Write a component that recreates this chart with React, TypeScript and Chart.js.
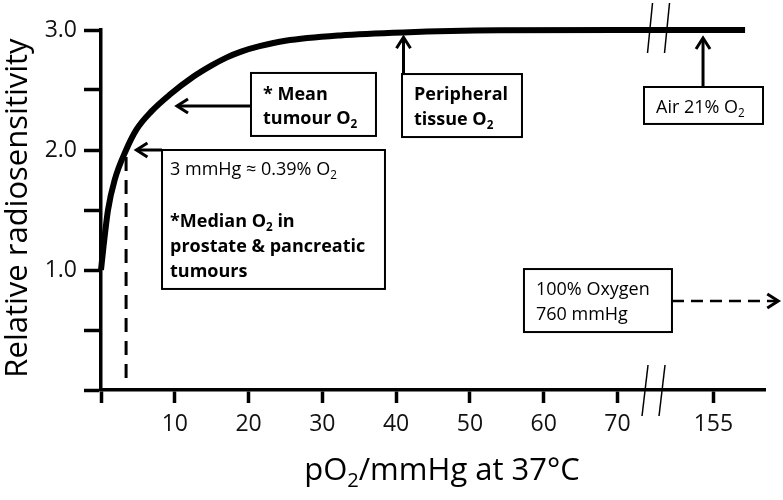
import React, { useEffect, useRef } from "react";
import { Chart, registerables } from "chart.js";

Chart.register(...registerables);

// ---- data ----
const pO2Values = [0, 0.35, 0.95, 1.85, 3.4, 4.8, 6.8, 9.3, 12.5, 15, 17, 19, 21.5, 25, 32.4, 41, 54, 70, 87.3];
const radiosensitivity = [1.0, 1.2, 1.5, 1.75, 2.0, 2.17, 2.32, 2.46, 2.61, 2.705, 2.77, 2.82, 2.865, 2.91, 2.955, 2.98, 2.997, 3.0, 3.0];
const markerPO2 = 3.4;
const markerRange = [0.1, 1.95];
const xTickValues = [0, 10, 20, 30, 40, 50, 60, 70, 83];
const xTickLabels = ["", "10", "20", "30", "40", "50", "60", "70", "155"];
const yTickLabelMap: Record<string, string> = { "1": "1.0", "2": "2.0", "3": "3.0" };
const xBreakAt = 75.5;

const FONT = '"Open Sans", "DejaVu Sans", sans-serif';

type Seg = [string, boolean?];
type Line = { segs: Seg[]; bold: boolean; dy: number };
type Box = { l: number; t: number; r: number; b: number; pad: number; lines: Line[] };

const boxes: Box[] = [
  {
    l: 20.33, t: 2.642, r: 37.27, b: 2.117, pad: 12,
    lines: [
      { segs: [["* Mean"]], bold: true, dy: 27 },
      { segs: [["tumour O"], ["2", true]], bold: true, dy: 51 },
    ],
  },
  {
    l: 8.27, t: 2.0, r: 38.49, b: 0.842, pad: 8,
    lines: [
      { segs: [["3 mmHg \u2248 0.39% O"], ["2", true]], bold: false, dy: 25 },
      { segs: [["*Median O"], ["2", true], [" in"]], bold: true, dy: 77 },
      { segs: [["prostate & pancreatic"]], bold: true, dy: 102 },
      { segs: [["tumours"]], bold: true, dy: 127 },
    ],
  },
  {
    l: 40.8, t: 2.633, r: 57.06, b: 2.108, pad: 12,
    lines: [
      { segs: [["Peripheral"]], bold: true, dy: 26 },
      { segs: [["tissue O"], ["2", true]], bold: true, dy: 51 },
    ],
  },
  {
    l: 73.6, t: 2.525, r: 89.73, b: 2.217, pad: 12,
    lines: [{ segs: [["Air 21% O"], ["2", true]], bold: false, dy: 26 }],
  },
  {
    l: 57.33, t: 1.008, r: 77.39, b: 0.483, pad: 12,
    lines: [
      { segs: [["100% Oxygen"]], bold: false, dy: 26 },
      { segs: [["760 mmHg"]], bold: false, dy: 51 },
    ],
  },
];

const arrows = [
  { x1: 20.33, y1: 2.367, x2: 10.3, y2: 2.367, dashed: false },
  { x1: 8.27, y1: 2.0, x2: 4.8, y2: 2.0, dashed: false },
  { x1: 41.0, y1: 2.633, x2: 41.0, y2: 2.94, dashed: false },
  { x1: 81.6, y1: 2.525, x2: 81.6, y2: 2.933, dashed: false },
  { x1: 77.39, y1: 0.742, x2: 91.8, y2: 0.742, dashed: true },
];

function drawRich(ctx: CanvasRenderingContext2D, segs: Seg[], x: number, y: number, size: number, bold: boolean, align: "left" | "center" = "left") {
  const measure = () => {
    let w = 0;
    for (const [t, sub] of segs) {
      const s = sub ? size * 0.65 : size;
      ctx.font = `${bold ? "bold " : ""}${s}px ${FONT}`;
      w += ctx.measureText(t).width;
    }
    return w;
  };
  let cx = align === "center" ? x - measure() / 2 : x;
  ctx.textAlign = "left";
  ctx.textBaseline = "alphabetic";
  for (const [t, sub] of segs) {
    const s = sub ? size * 0.65 : size;
    ctx.font = `${bold ? "bold " : ""}${s}px ${FONT}`;
    ctx.fillText(t, cx, sub ? y + size * 0.22 : y);
    cx += ctx.measureText(t).width;
  }
}

function drawArrow(ctx: CanvasRenderingContext2D, x1: number, y1: number, x2: number, y2: number, dashed: boolean) {
  const ang = Math.atan2(y2 - y1, x2 - x1);
  ctx.save();
  ctx.strokeStyle = "#000";
  ctx.lineWidth = dashed ? 2.5 : 3;
  ctx.setLineDash(dashed ? [12, 7] : []);
  ctx.beginPath();
  ctx.moveTo(x1, y1);
  ctx.lineTo(x2 - Math.cos(ang) * 2, y2 - Math.sin(ang) * 2);
  ctx.stroke();
  ctx.setLineDash([]);
  const L = 11, W = 7;
  const bx = x2 - Math.cos(ang) * L, by = y2 - Math.sin(ang) * L;
  const nx = -Math.sin(ang) * W, ny = Math.cos(ang) * W;
  ctx.lineWidth = 3;
  ctx.lineJoin = "miter";
  ctx.beginPath();
  ctx.moveTo(bx + nx, by + ny);
  ctx.lineTo(x2, y2);
  ctx.lineTo(bx - nx, by - ny);
  ctx.stroke();
  ctx.restore();
}

const annotationPlugin = {
  id: "annotations",
  afterDraw(chart: any) {
    const ctx: CanvasRenderingContext2D = chart.ctx;
    const xs = chart.scales.x, ys = chart.scales.y;
    const X = (v: number) => xs.getPixelForValue(v);
    const Y = (v: number) => ys.getPixelForValue(v);
    ctx.save();
    ctx.fillStyle = "#000";
    for (const b of boxes) {
      const l = X(b.l), t = Y(b.t), r = X(b.r), bt = Y(b.b);
      ctx.fillStyle = "#fff";
      ctx.fillRect(l, t, r - l, bt - t);
      ctx.strokeStyle = "#000";
      ctx.lineWidth = 2;
      ctx.strokeRect(l, t, r - l, bt - t);
      ctx.fillStyle = "#000";
      for (const ln of b.lines) {
        drawRich(ctx, ln.segs, l + b.pad, t + ln.dy, 18, ln.bold);
      }
    }
    for (const a of arrows) drawArrow(ctx, X(a.x1), Y(a.y1), X(a.x2), Y(a.y2), a.dashed);

    // break marks
    ctx.strokeStyle = "#000";
    ctx.lineWidth = 1.5;
    const bx = X(xBreakAt);
    const topY = Y(3.0);
    for (const off of [-8.5, 8.5]) {
      ctx.beginPath();
      ctx.moveTo(bx + off + 3, topY - 27);
      ctx.lineTo(bx + off - 2, topY + 23);
      ctx.stroke();
    }
    const axY = Y(0);
    const bx2 = bx - 4.5;
    for (const off of [-8.5, 8.5]) {
      ctx.beginPath();
      ctx.moveTo(bx2 + off + 3, axY - 25);
      ctx.lineTo(bx2 + off - 3, axY + 26);
      ctx.stroke();
    }

    // axis titles
    ctx.fillStyle = "#000";
    drawRich(ctx, [["pO"], ["2", true], ["/mmHg at 37\u00B0C"]], (chart.chartArea.left + chart.chartArea.right) / 2 + 9, 480, 31, false, "center");
    ctx.save();
    ctx.translate(27, 208);
    ctx.rotate(-Math.PI / 2);
    ctx.font = `31px ${FONT}`;
    ctx.textAlign = "center";
    ctx.textBaseline = "alphabetic";
    ctx.fillText("Relative radiosensitivity", 0, 0);
    ctx.restore();
    ctx.restore();
  },
};

export default function App() {
  const ref = useRef<HTMLCanvasElement | null>(null);
  useEffect(() => {
    document.body.style.margin = "0";
    const canvas = ref.current!;
    const chart = new Chart(canvas, {
      type: "line",
      data: {
        datasets: [
          {
            data: pO2Values.map((x, i) => ({ x, y: radiosensitivity[i] })),
            borderColor: "#000",
            borderWidth: 6,
            pointRadius: 0,
            cubicInterpolationMode: "monotone",
            fill: false,
            clip: false as any,
          },
          {
            data: markerRange.map((y) => ({ x: markerPO2, y })),
            borderColor: "#000",
            borderWidth: 3,
            borderDash: [14, 9],
            pointRadius: 0,
            fill: false,
          },
        ],
      },
      options: {
        responsive: false,
        animation: false,
        devicePixelRatio: 1,
        layout: { padding: { top: 30, right: 18, left: 0, bottom: 0 } },
        plugins: { legend: { display: false }, tooltip: { enabled: false }, title: { display: false } },
        scales: {
          x: {
            type: "linear",
            min: 0,
            max: 90,
            afterBuildTicks: (scale: any) => {
              scale.ticks = xTickValues.map((v) => ({ value: v }));
            },
            afterFit: (scale: any) => {
              scale.height = 110;
            },
            ticks: {
              autoSkip: false,
              maxRotation: 0,
              padding: 8,
              color: "#111",
              font: { family: FONT, size: 23 },
              callback: (_v: any, i: number) => xTickLabels[i],
            },
            grid: { drawOnChartArea: false, drawTicks: true, tickLength: 13, tickWidth: 3.5, color: "#000" },
            border: { display: true, width: 3.5, color: "#000" },
          },
          y: {
            type: "linear",
            min: 0,
            max: 3,
            afterFit: (scale: any) => {
              scale.width = 101;
            },
            ticks: {
              stepSize: 0.5,
              padding: 7,
              color: "#111",
              font: { family: FONT, size: 23 },
              callback: (v: any) => yTickLabelMap[String(v)] ?? "",
            },
            grid: { drawOnChartArea: false, drawTicks: true, tickLength: 17, tickWidth: 3.5, color: "#000" },
            border: { display: true, width: 3.5, color: "#000" },
          },
        },
      },
      plugins: [annotationPlugin],
    });
    return () => chart.destroy();
  }, []);
  return <canvas ref={ref} width={783} height={500} style={{ display: "block" }} />;
}
